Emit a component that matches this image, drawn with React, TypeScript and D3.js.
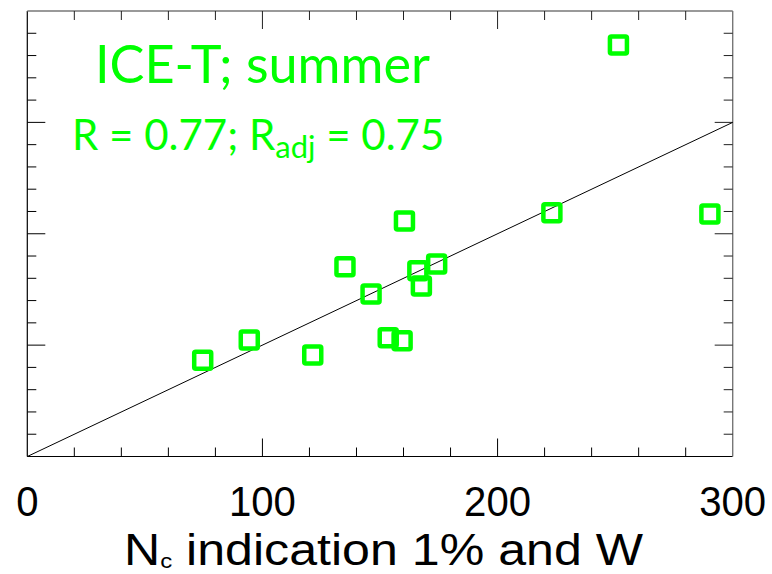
import React from 'react'
import * as d3 from 'd3'

// Nc indication (1% and W) vs. observed, ICE-T summer
const xVals = [74.6, 94.4, 121.4, 135.1, 146.2, 153.5, 159.4, 160.4, 166.1, 167.6, 174.1, 223.1, 251.4, 290.3]
const yVals = [86.4, 104.6, 91.1, 170.4, 145.9, 106.7, 104.0, 211.4, 166.8, 153.1, 172.8, 218.9, 369.5, 217.7]
const xTickLabels = [0, 100, 200, 300]
const xMinor = d3.range(0, 301, 20)
const yMinor = d3.range(0, 401, 20)

const W = 772
const H = 574
const margin = { left: 27.3, right: W - 732.7, top: 11, bottom: H - 456.5 }
const green = '#00ff00'

export default function App() {
  const x = d3.scaleLinear().domain([0, 300]).range([margin.left, W - margin.right])
  const y = d3.scaleLinear().domain([0, 400]).range([H - margin.bottom, margin.top])
  const x0 = x(0), x1 = x(300), y0 = y(0), y1 = y(400)

  const line = d3.line<number>().x(d => x(d)).y(d => y(d))

  return (
    <svg width={W} height={H} style={{ position: 'absolute', left: 0, top: 0, background: '#fff' }}>
      {/* frame */}
      <line x1={x0} x2={x1} y1={y0} y2={y0} stroke="#000" strokeWidth={1.2} />
      <line x1={x0} x2={x0} y1={y0} y2={y1} stroke="#000" strokeWidth={1.2} />
      <line x1={x0} x2={x1} y1={y1} y2={y1} stroke="#777" strokeWidth={1.4} />
      <line x1={x1} x2={x1} y1={y0} y2={y1} stroke="#777" strokeWidth={1.4} />

      {/* x ticks bottom & top */}
      {xMinor.slice(1, -1).map(v => {
        const len = v % 100 === 0 ? 18 : 9
        return (
          <g key={'xt' + v}>
            <line x1={x(v)} x2={x(v)} y1={y0} y2={y0 - len} stroke="#000" strokeWidth={1} />
            <line x1={x(v)} x2={x(v)} y1={y1} y2={y1 + len} stroke="#222" strokeWidth={1} />
          </g>
        )
      })}
      {/* y ticks left & right */}
      {yMinor.slice(1, -1).map(v => {
        const len = v % 100 === 0 ? 18 : 9
        return (
          <g key={'yt' + v}>
            <line x1={x0} x2={x0 + len} y1={y(v)} y2={y(v)} stroke="#000" strokeWidth={1} />
            <line x1={x1} x2={x1 - len} y1={y(v)} y2={y(v)} stroke="#222" strokeWidth={1} />
          </g>
        )
      })}

      {/* x tick labels */}
      {xTickLabels.map(v => (
        <text key={'xl' + v} x={x(v)} y={516} textAnchor="middle"
          fontFamily="'Liberation Sans', Arial, sans-serif" fontSize={43}
          textLength={String(v).length * 22.3} lengthAdjust="spacingAndGlyphs">
          {v}
        </text>
      ))}

      {/* x axis title */}
      <text x={124} y={564.5} fontFamily="'Liberation Sans', Arial, sans-serif" fontSize={44}
        textLength={519} lengthAdjust="spacingAndGlyphs">
        <tspan>N</tspan>
        <tspan fontSize={21} dy={3}>c</tspan>
        <tspan dy={-3}> indication 1% and W</tspan>
      </text>

      {/* 1:1 line */}
      <path d={line([0, 300]) || ''} stroke="#000" strokeWidth={1} fill="none" />

      {/* points */}
      {xVals.map((xv, i) => (
        <rect key={'p' + i} x={x(xv) - 8.5} y={y(yVals[i]) - 8.5} width={17} height={17} rx={1.5}
          fill="none" stroke={green} strokeWidth={4.5} />
      ))}

      {/* annotations */}
      <text x={95} y={83} fill={green} fontFamily="Lato, 'Open Sans', sans-serif" fontSize={52}
        textLength={335} lengthAdjust="spacingAndGlyphs">
        ICE-T; summer
      </text>
      <text x={72} y={150} fill={green} fontFamily="Lato, 'Open Sans', sans-serif" fontSize={42}>
        <tspan>R = 0.77; R</tspan>
        <tspan fontSize={31} dy={8}>adj</tspan>
        <tspan dy={-8}> = 0.75</tspan>
      </text>
    </svg>
  )
}
